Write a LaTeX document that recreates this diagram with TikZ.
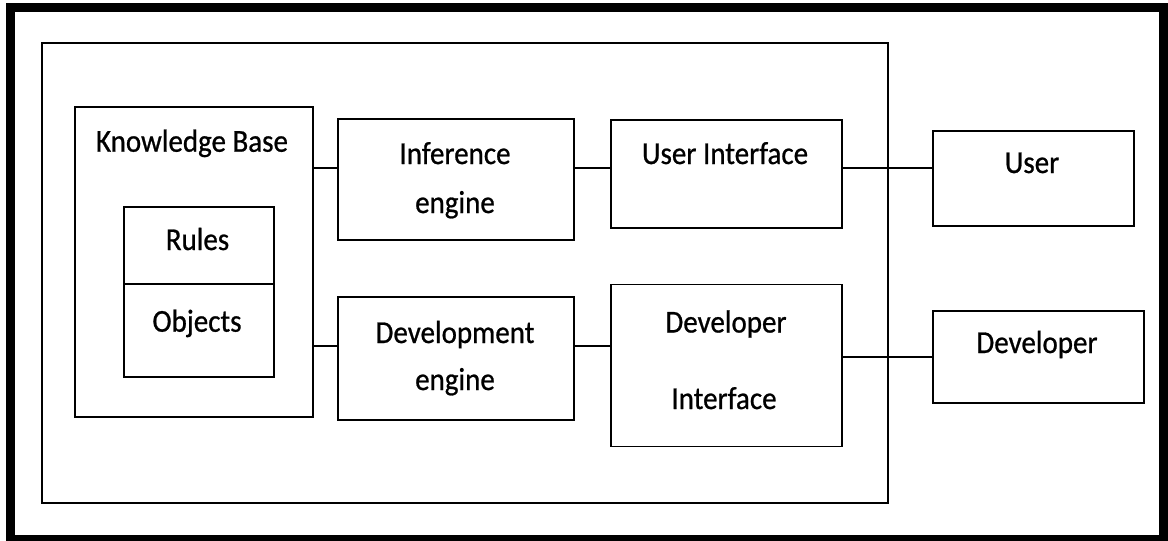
\documentclass[tikz,border=0pt]{standalone}
\usepackage{fontspec}
\setmainfont[FakeBold=0.8]{Carlito}
\begin{document}
\begin{tikzpicture}[x=1pt,y=-1pt,
  box/.style={draw=black,line width=1.8pt,inner sep=0pt},
  lbl/.style={anchor=base,inner sep=0pt,font=\fontsize{29}{34}\selectfont},
  link/.style={draw=black,line width=1.8pt}]
\newcommand\tallword[1]{\scalebox{1}[1.1]{#1}}
\useasboundingbox (0,0) rectangle (1168,541);
% heavy outer frame
\draw[line width=9pt] (10.5,7.5) rectangle (1163,539.5);
% system container and its blocks
\node[box,minimum width=846pt,minimum height=460pt] (sys) at (465,273) {};
\node[box,minimum width=238pt,minimum height=310pt] (kb) at (194,262) {};
\node[box,minimum width=150pt,minimum height=77pt] (rules) at (199,245.5) {};
\node[box,minimum width=150pt,minimum height=93pt] (objs) at (199,330.5) {};
\node[box,minimum width=236pt,minimum height=121pt] (inf) at (456,179.5) {};
\node[box,minimum width=231pt,minimum height=108pt] (ui) at (726.5,174) {};
\node[box,minimum width=236pt,minimum height=123pt] (dev) at (456,358.5) {};
\node[box,minimum width=231pt,minimum height=162pt] (di) at (726.5,365.5) {};
\node[box,minimum width=201pt,minimum height=95pt] (user) at (1033.5,178.5) {};
\node[box,minimum width=211pt,minimum height=92pt] (devr) at (1038.5,357) {};
% labels
\node[lbl] (tkb) at (192,151.7) {\tallword{Knowledge Base}};
\node[lbl] (trules) at (197.5,250) {\tallword{Rules}};
\node[lbl] (tobjs) at (197,331.7) {\tallword{Objects}};
\node[lbl] (tinf1) at (455,164) {\tallword{Inference}};
\node[lbl] (tinf2) at (455,213) {\tallword{engine}};
\node[lbl] (tui) at (725,164) {\tallword{User Interface}};
\node[lbl] (tdev1) at (455,343) {\tallword{Development}};
\node[lbl] (tdev2) at (455,390) {\tallword{engine}};
\node[lbl] (tdi1) at (726,332.5) {\tallword{Developer}};
\node[lbl] (tdi2) at (724,409) {\tallword{Interface}};
\node[lbl] (tuser) at (1032,173) {\tallword{User}};
\node[lbl] (tdevr) at (1037,353) {\tallword{Developer}};
% connector rows
\coordinate (rowA) at (0,168);
\coordinate (rowB) at (0,346);
\coordinate (rowC) at (0,357);
\draw[link] (kb.east |- rowA) -- (inf.west |- rowA);
\draw[link] (inf.east |- rowA) -- (ui.west |- rowA);
\draw[link] (ui.east |- rowA) -- (user.west |- rowA);
\draw[link] (kb.east |- rowB) -- (dev.west |- rowB);
\draw[link] (dev.east |- rowB) -- (di.west |- rowB);
\draw[link] (di.east |- rowC) -- (devr.west |- rowC);
\end{tikzpicture}
\end{document}
